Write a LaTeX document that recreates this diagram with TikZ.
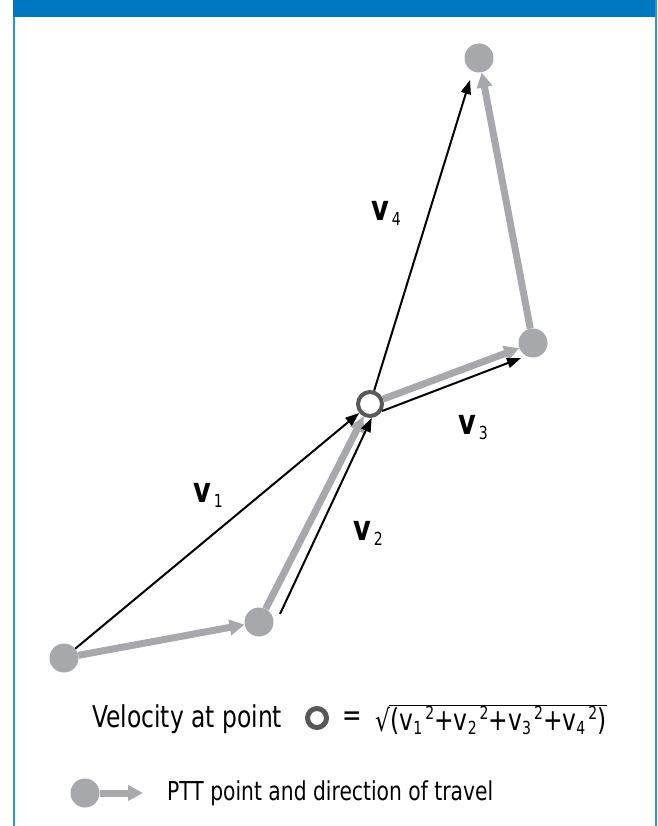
\documentclass[tikz,border=0pt]{standalone}
\usepackage{fontspec}
\setmainfont{DejaVu Sans}[FakeStretch=0.78]
\usetikzlibrary{arrows.meta,positioning,calc}

\definecolor{bandblue}{RGB}{0,120,193}
\definecolor{edgeblue}{RGB}{45,148,215}
\definecolor{trackgray}{RGB}{167,168,172}
\definecolor{ringgray}{RGB}{88,88,90}

\newcommand\vlab[1]{{\bfseries v}\raisebox{-5pt}{\fontsize{18}{18}\selectfont\,#1}}
\newcommand\vsq[1]{v\raisebox{-4pt}{\fontsize{18}{18}\selectfont#1}\raisebox{11pt}{\fontsize{18}{18}\selectfont\,2}}

\tikzset{
  pttdot/.style={circle,fill=trackgray,inner sep=0pt,minimum size=29pt},
  ring/.style={circle,draw=ringgray,line width=4pt,fill=white,inner sep=0pt,minimum size=24pt},
  track/.style={line width=7pt,trackgray,-{Triangle[length=15pt,width=15pt]}},
  vel/.style={line width=2pt,black,-{Triangle[length=14pt,width=10pt]}},
  vlabel/.style={font=\fontsize{35}{35}\selectfont,inner sep=0pt},
  plain/.style={inner sep=0pt,font=\fontsize{30}{30}\selectfont},
}

\begin{document}
\begin{tikzpicture}[x=1pt,y=-1pt]
	\useasboundingbox (0,0) rectangle (657,826);
	
	% frame and header band
	\fill[bandblue] (13,0) rectangle (655,17);
	\draw[edgeblue,line width=2pt] (14,17) -- (14,826);
	\draw[edgeblue,line width=2pt] (656,0) -- (656,826);
	
	% PTT points
	\node[pttdot] (p1) at (64,658) {};
	\node[pttdot] (p2) at (259,622) {};
	\node[pttdot] (p3) at (533,343) {};
	\node[pttdot] (p4) at (479,58) {};
	\node[ring] (o) at (370,404) {};
	
	% direction of travel
	\draw[track] (p1) -- (p2);
	\draw[track] (p2) -- (o);
	\draw[track] (o) -- (p3);
	\draw[track] (p3) -- (p4);
	
	% velocity vectors
	\draw[vel] (p1) -- (o);
	\draw[vel] ([shift={(21,-8)}]p2.center) -- (o.-83);
	\draw[vel] (o.-30) -- ([shift={(-12,15)}]p3.center);
	\draw[vel] (o) -- ([shift={(-9,22)}]p4.center);
	
	\node[vlabel] (v1) at (208,495) {\vlab{1}};
	\node[vlabel] (v2) at (368,533) {\vlab{2}};
	\node[vlabel] (v3) at (473,428) {\vlab{3}};
	\node[vlabel] (v4) at (386,213) {\vlab{4}};
	
	% formula
	\node[plain,anchor=west] (veltext) at (92,719) {Velocity at point};
	\node[ring,minimum size=19pt,line width=5pt] (legring) at (317,718) {};
	\node[plain,anchor=west] (eqsign) at (342,719) {=};
	\node[plain,anchor=west] (radsign) at (375,720) {√};
	\node[plain,right=0pt of radsign] (radicand) {(\vsq{1}+\vsq{2}+\vsq{3}+\vsq{4})};
	\draw[line width=1.2pt] ($(radsign.north east)+(-1,-2)$) -- ($(radicand.north east |- radsign.north east)+(0,-2)$);
	
	% legend
	\node[pttdot] (legdot) at (85,793) {};
	\coordinate (legtip) at (143,793);
	\draw[track] (legdot) -- (legtip);
	\node[inner sep=0pt,anchor=west,font=\fontsize{26}{26}\selectfont] (legtext) at (167,793) {PTT point and direction of travel};
\end{tikzpicture}
\end{document}
